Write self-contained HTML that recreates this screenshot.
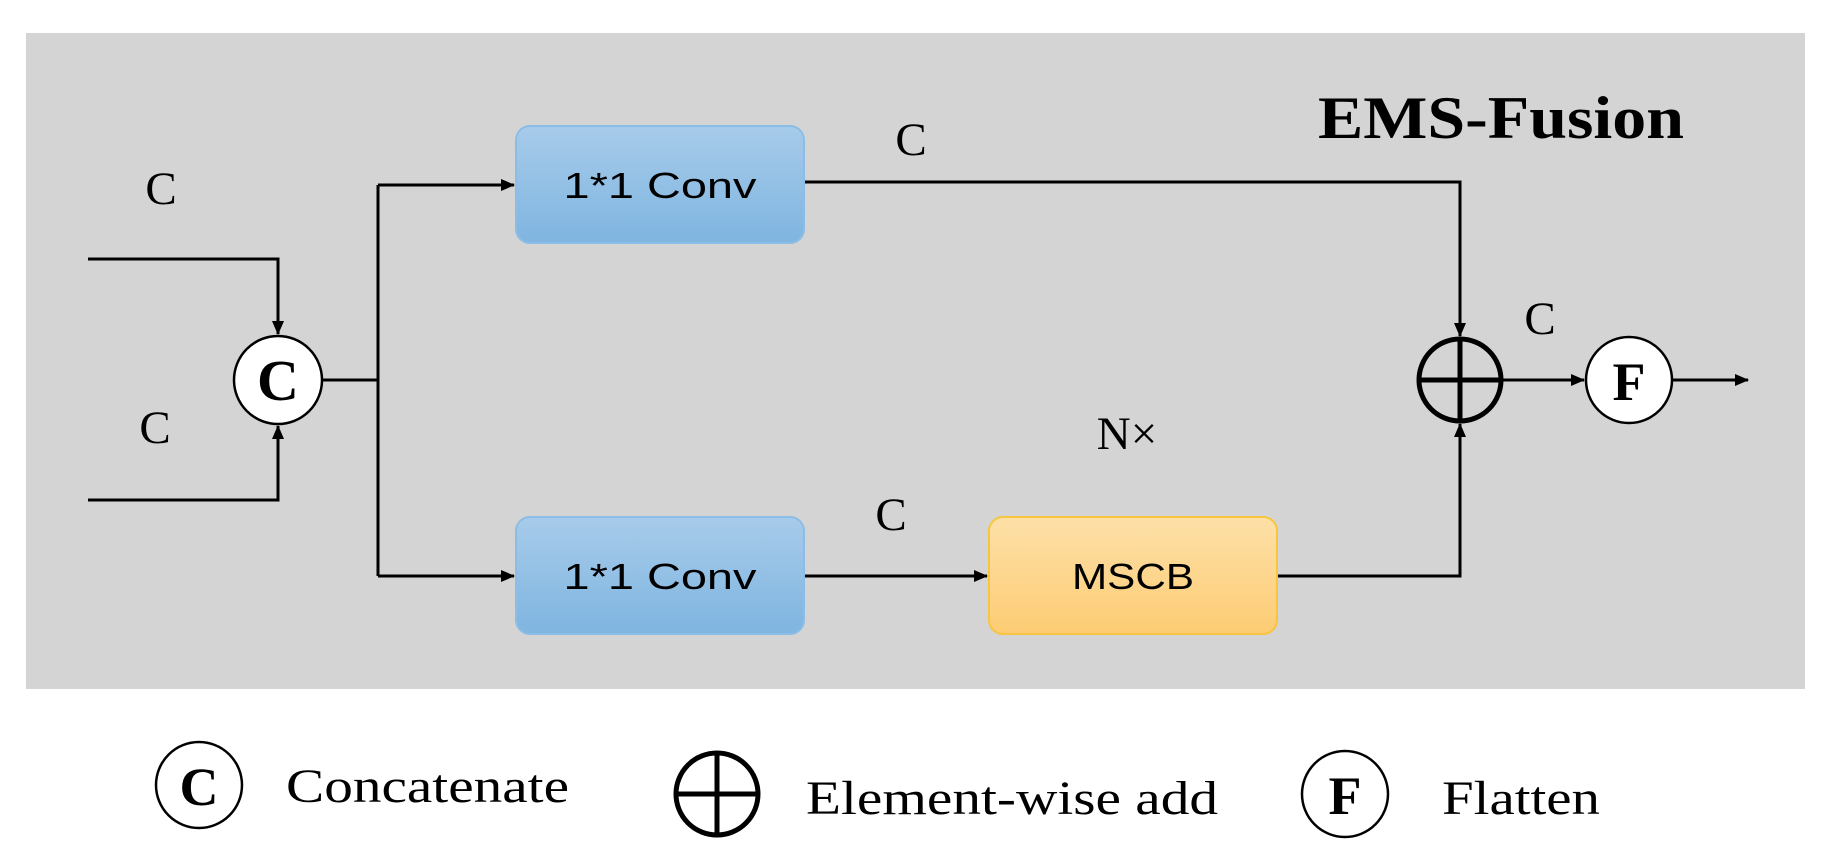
<!DOCTYPE html>
<html><head><style>body{margin:0;background:#fff}</style></head><body>
<svg width="1822" height="862" xmlns="http://www.w3.org/2000/svg">
<defs>
<linearGradient id="b" x1="0" y1="0" x2="0" y2="1"><stop offset="0" stop-color="#a7cbea"/><stop offset="1" stop-color="#7fb5e0"/></linearGradient>
<linearGradient id="o" x1="0" y1="0" x2="0" y2="1"><stop offset="0" stop-color="#fde0a8"/><stop offset="1" stop-color="#fdcc74"/></linearGradient>
<marker id="a" markerWidth="14" markerHeight="12" refX="13" refY="6" orient="auto" markerUnits="userSpaceOnUse"><path d="M0,0 L14,6 L0,12 z" fill="#000"/></marker>
</defs>
<rect x="26" y="33" width="1779" height="656" fill="#d4d4d4"/>
<g stroke="#000" stroke-width="3" fill="none">
<polyline points="88,259 278,259 278,334" marker-end="url(#a)"/>
<polyline points="88,500 278,500 278,426" marker-end="url(#a)"/>
<line x1="322" y1="380" x2="378" y2="380"/>
<polyline points="378,185 378,576"/>
<line x1="378" y1="185" x2="514" y2="185" marker-end="url(#a)"/>
<line x1="378" y1="576" x2="514" y2="576" marker-end="url(#a)"/>
<polyline points="804,182 1460,182 1460,336" marker-end="url(#a)"/>
<line x1="804" y1="576" x2="987" y2="576" marker-end="url(#a)"/>
<polyline points="1277,576 1460,576 1460,424" marker-end="url(#a)"/>
<line x1="1502" y1="380" x2="1584" y2="380" marker-end="url(#a)"/>
<line x1="1672" y1="380" x2="1748" y2="380" marker-end="url(#a)"/>
</g>
<rect x="516" y="126" width="288" height="117" rx="14" fill="url(#b)" stroke="#8cbde6" stroke-width="2"/>
<rect x="516" y="517" width="288" height="117" rx="14" fill="url(#b)" stroke="#8cbde6" stroke-width="2"/>
<rect x="989" y="517" width="288" height="117" rx="14" fill="url(#o)" stroke="#f7c640" stroke-width="2"/>
<g font-family="Liberation Sans, sans-serif" font-size="36" text-anchor="middle">
<text x="660" y="198" textLength="193" lengthAdjust="spacingAndGlyphs">1*1 Conv</text><text x="660" y="589" textLength="193" lengthAdjust="spacingAndGlyphs">1*1 Conv</text><text x="1133" y="589" textLength="122" lengthAdjust="spacingAndGlyphs">MSCB</text>
</g>
<g fill="#fff" stroke="#000" stroke-width="2.5">
<circle cx="278" cy="380" r="44"/><circle cx="1629" cy="380" r="43"/>
<circle cx="199" cy="785" r="43"/><circle cx="1345" cy="794" r="43"/>
</g>
<g fill="none" stroke="#000" stroke-width="5">
<circle cx="1460" cy="380" r="41"/><line x1="1419" y1="380" x2="1501" y2="380"/><line x1="1460" y1="339" x2="1460" y2="421"/>
<circle cx="717" cy="794" r="41"/><line x1="676" y1="794" x2="758" y2="794"/><line x1="717" y1="753" x2="717" y2="835"/>
</g>
<g font-family="Liberation Serif, serif" text-anchor="middle">
<text x="278" y="400" font-size="58" font-weight="bold">C</text>
<text x="1629" y="400" font-size="54" font-weight="bold">F</text>
<text x="199" y="805" font-size="54" font-weight="bold">C</text>
<text x="1345" y="814" font-size="54" font-weight="bold">F</text>
<g font-size="47"><text x="161" y="204">C</text><text x="155" y="443">C</text><text x="911" y="155">C</text><text x="891" y="530">C</text><text x="1540" y="334">C</text><text x="1127" y="449">N×</text></g>
<text x="1501" y="138" font-size="60" font-weight="bold" textLength="366" lengthAdjust="spacingAndGlyphs">EMS-Fusion</text>
</g>
<g font-family="Liberation Serif, serif" font-size="48">
<text x="286" y="802" textLength="283" lengthAdjust="spacingAndGlyphs">Concatenate</text><text x="806" y="814" textLength="412" lengthAdjust="spacingAndGlyphs">Element-wise add</text><text x="1442" y="814" textLength="158" lengthAdjust="spacingAndGlyphs">Flatten</text>
</g>
</svg>
</body></html>
